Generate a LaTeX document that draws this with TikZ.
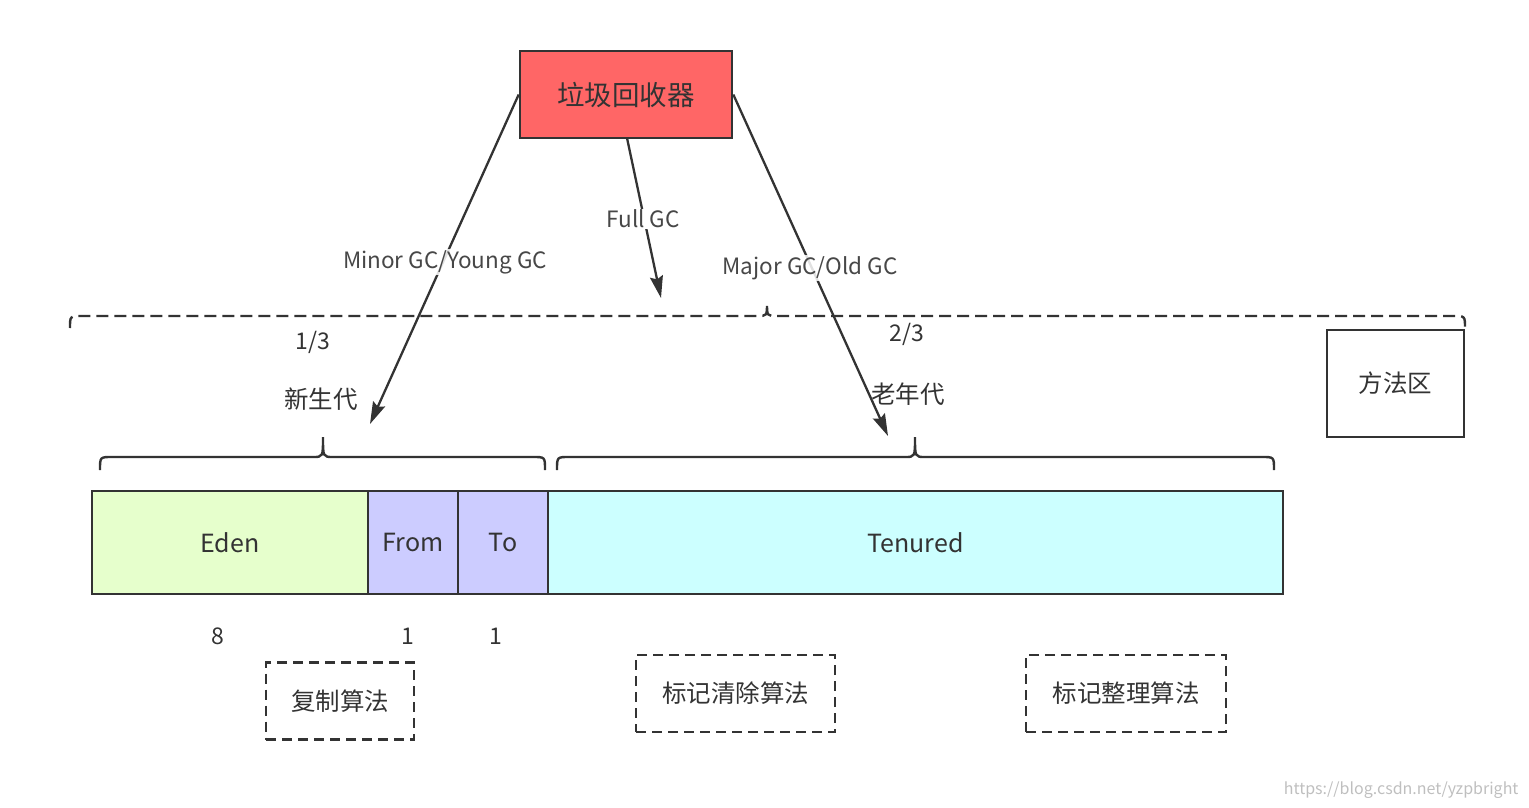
\documentclass[tikz,border=0pt]{standalone}
\usepackage{fontspec}
\setmainfont{Noto Sans CJK SC}
\usetikzlibrary{arrows.meta}
\definecolor{txt}{HTML}{333333}
\definecolor{gcred}{HTML}{FF6666}
\definecolor{edenc}{HTML}{E6FFCC}
\definecolor{survc}{HTML}{CCCCFF}
\definecolor{tenc}{HTML}{CCFFFF}
\tikzset{
  region/.style={draw=txt, line width=2.6pt, minimum height=103pt, inner sep=0pt, font=\fontsize{25}{29}\selectfont, text=txt},
  algbox/.style={draw=txt, line width=2.6pt, dash pattern=on 10pt off 6pt, minimum height=77pt, inner sep=0pt, font=\fontsize{24.5}{28}\selectfont, text=txt},
  lbl/.style={font=\fontsize{23}{27}\selectfont, text=txt, inner sep=1pt},
  cjklbl/.style={font=\fontsize{24.5}{28}\selectfont, text=txt, inner sep=1pt},
  gclbl/.style={font=\fontsize{22.5}{26}\selectfont, text=txt!90, inner sep=1pt},
  gcarrow/.style={draw=txt, line width=2.3pt, -{Stealth[length=22pt,width=13pt,inset=3pt]}},
  bracec/.style={draw=txt, line width=2.4pt}
}
\begin{document}
\begin{tikzpicture}[x=1pt,y=-1pt]
\useasboundingbox (0,0) rectangle (1529,808);
% garbage collector
\node[draw=txt, line width=2.6pt, fill=gcred, minimum width=212pt, minimum height=87pt, inner sep=0pt, font=\fontsize{27.5}{31}\selectfont, text=txt] (gc) at (626,94.5) {\raisebox{-4pt}{垃圾回收器}};
% memory bar
\node[region, fill=edenc, minimum width=276pt] (eden) at (230,542.5) {Eden};
\node[region, fill=survc, minimum width=90pt] (from) at (413,542.5) {From};
\node[region, fill=survc, minimum width=90pt] (to) at (503,542.5) {To};
\node[region, fill=tenc, minimum width=735pt] (ten) at (915.5,542.5) {Tenured};
% method area
\node[draw=txt, line width=2.6pt, minimum width=137pt, minimum height=107pt, inner sep=0pt, font=\fontsize{24.5}{28}\selectfont, text=txt] (meth) at (1395.5,383.5) {方法区};
% braces
\draw[bracec, dash pattern=on 12pt off 6pt] (70,328) .. controls (70,316) .. (82,316) -- (757,316) .. controls (767,316) .. (767,303) .. controls (767,316) .. (777,316) -- (1453,316) .. controls (1465,316) .. (1465,328);
\draw[bracec] (100,470) .. controls (100,457) .. (112,457) -- (313,457) .. controls (323,457) .. (323,437) .. controls (323,457) .. (333,457) -- (533,457) .. controls (545,457) .. (545,470);
\draw[bracec] (557,470) .. controls (557,457) .. (569,457) -- (905,457) .. controls (915,457) .. (915,437) .. controls (915,457) .. (925,457) -- (1262,457) .. controls (1274,457) .. (1274,470);
% labels
\node[lbl] (third1) at (313,342) {1/3};
\node[cjklbl] (young) at (321,399) {新生代};
\node[lbl] (third2) at (907,334) {2/3};
\node[cjklbl] (old) at (908,394) {老年代};
\node[lbl] (n8) at (218,636) {8};
\node[lbl] (n1a) at (408,636) {1};
\node[lbl] (n1b) at (496,636) {1};
% algorithm boxes
\node[algbox, minimum width=148pt] (copy) at (340,701) {复制算法};
\node[algbox, minimum width=199pt] (mark) at (735.5,693.5) {\raisebox{-3pt}{标记清除算法}};
\node[algbox, minimum width=200pt] (compact) at (1126,693.5) {\raisebox{-3pt}{标记整理算法}};
% arrows
\coordinate (youngend) at (370,424);
\coordinate (fullend) at (661,298);
\coordinate (oldend) at (888,436);
\draw[gcarrow] (gc.west) -- (youngend);
\draw[gcarrow] (627,138) -- (fullend);
\draw[gcarrow] (gc.east) -- (oldend);
% arrow labels
\node[gclbl, fill=white] (fulllbl) at (643,219) {Full GC};
\node[gclbl, fill=white, fill opacity=0.85, text opacity=1] (minorlbl) at (445,262) {Minor GC/Young GC};
\node[gclbl, fill=white, fill opacity=0.85, text opacity=1] (majorlbl) at (810,268) {Major GC/Old GC};
% watermark
\node[font=\fontsize{16}{18}\selectfont, text=black!25, anchor=east] (wm) at (1522,790) {https://blog.csdn.net/yzpbright};
\end{tikzpicture}
\end{document}
